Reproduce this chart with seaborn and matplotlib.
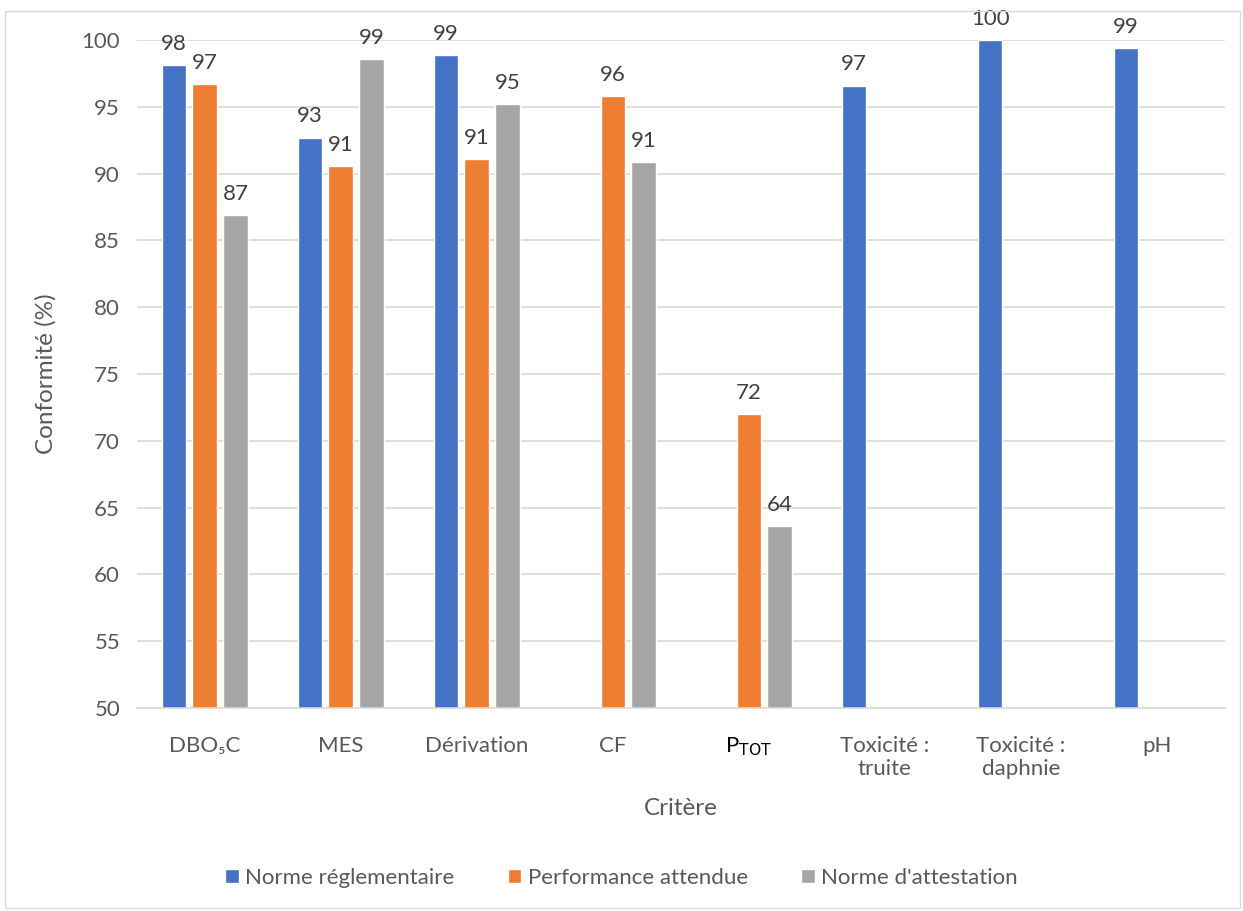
import numpy as np
import pandas as pd
import matplotlib
matplotlib.use("Agg")
import matplotlib.pyplot as plt
import seaborn as sns

categories = ["DBO₅C", "MES", "Dérivation", "CF", r"P$_{\mathrm{TOT}}$",
              "Toxicité :\ntruite", "Toxicité :\ndaphnie", "pH"]
series = ["Norme réglementaire", "Performance attendue", "Norme d'attestation"]
norme_reglementaire = [98.1, 92.7, 98.9, np.nan, np.nan, 96.6, 100.0, 99.4]
performance_attendue = [96.7, 90.6, 91.1, 95.8, 72.0, np.nan, np.nan, np.nan]
norme_attestation = [86.9, 98.6, 95.2, 90.9, 63.6, np.nan, np.nan, np.nan]
colors = ["#4472C4", "#ED7D31", "#A5A5A5"]
yticks = list(range(50, 101, 5))

rows = []
for s, vals in zip(series, [norme_reglementaire, performance_attendue, norme_attestation]):
    for c, v in zip(categories, vals):
        rows.append({"Critère": c, "Série": s, "Valeur": v})
df = pd.DataFrame(rows)

sns.set_theme(style="white")
plt.rcParams['font.family'] = ['Lato', 'DejaVu Sans']
txt = "#595959"

fig = plt.figure(figsize=(12.43, 9.11), dpi=100)
ax = fig.add_axes([0.110, 0.2228, 0.8755, 0.7332])
sns.barplot(data=df, x="Critère", y="Valeur", hue="Série", order=categories,
            hue_order=series, palette=colors, width=0.68, gap=0.2,
            saturation=1, ax=ax, legend=True)

ax.set_ylim(50, 100)
ax.set_yticks(yticks)
ax.yaxis.grid(True, color="#d9d9d9", linewidth=1.2)
ax.set_axisbelow(True)
for sp in ["top", "right", "left"]:
    ax.spines[sp].set_visible(False)
ax.spines["bottom"].set_color("#d9d9d9")
ax.spines["bottom"].set_linewidth(1.2)
ax.tick_params(axis="both", length=0, labelsize=16, colors=txt, pad=12)
ax.tick_params(axis="x", pad=20)
for lab in ax.get_xticklabels():
    if "TOT" in lab.get_text():
        lab.set_color("black")

for cont in ax.containers:
    labels = ["" if np.isnan(v) else f"{v:.0f}" for v in cont.datavalues]
    ax.bar_label(cont, labels=labels, padding=8, fontsize=16, color="#404040",
                 clip_on=False)

ax.set_xlabel("Critère", fontsize=17.5, color=txt, labelpad=14)
ax.set_ylabel("Conformité (%)", fontsize=17.5, color=txt, labelpad=18)

handles, labs = ax.get_legend_handles_labels()
ax.legend(handles, labs, loc="center", bbox_to_anchor=(0.5, 1 - 878/911),
          bbox_transform=fig.transFigure, ncol=3, frameon=False, fontsize=16,
          handlelength=0.6, handleheight=0.6, handletextpad=0.3, columnspacing=2.4,
          labelcolor=txt)

border = plt.Rectangle((5/1243, 1 - 908/911), 1235/1243, 897/911, transform=fig.transFigure,
                       fill=False, edgecolor="#d9d9d9", linewidth=1)
fig.patches.append(border)

fig.savefig("out.png", dpi=100)
